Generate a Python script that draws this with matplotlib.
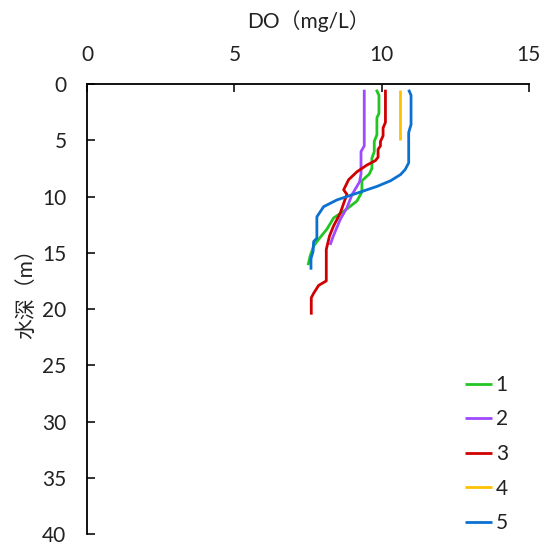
import matplotlib
matplotlib.use("Agg")
import matplotlib.pyplot as plt

plt.rcParams['font.family'] = ['Lato', 'Noto Sans CJK SC', 'DejaVu Sans']

# DO profiles (mg/L) against depth (m) for stations 1-5
do_1 = [9.82, 9.91, 9.91, 9.84, 9.84, 9.75, 9.75, 9.67, 9.67, 9.58, 9.33, 9.33, 9.16, 8.77, 8.37, 8.14, 7.86, 7.69, 7.57, 7.50]
depth_1 = [0.5, 1.0, 2.6, 3.0, 4.5, 5.1, 6.0, 6.6, 7.5, 8.0, 8.6, 9.6, 10.4, 11.2, 11.9, 12.9, 13.8, 14.4, 15.3, 16.1]

do_2 = [9.41, 9.41, 9.30, 9.30, 9.25, 9.00, 8.82, 8.60, 8.36, 8.25]
depth_2 = [0.5, 5.5, 6.0, 8.0, 8.7, 9.8, 11.0, 12.0, 13.5, 14.3]

do_3 = [10.13, 10.13, 10.05, 10.05, 9.96, 9.96, 9.88, 9.88, 9.79, 9.50, 9.16, 8.88, 8.71, 8.82, 8.59, 8.37, 8.23, 8.12, 8.12, 7.86, 7.69, 7.61, 7.61]
depth_3 = [0.5, 3.4, 3.9, 4.6, 5.1, 5.5, 5.8, 6.5, 6.8, 7.2, 7.8, 8.5, 9.4, 9.8, 11.5, 12.6, 13.5, 14.7, 17.5, 17.9, 18.6, 19.0, 20.5]

do_4 = [10.61, 10.61]
depth_4 = [0.5, 5.0]

do_5 = [10.92, 11.00, 11.00, 10.92, 10.92, 10.80, 10.64, 10.30, 9.84, 9.16, 8.48, 8.03, 7.80, 7.80, 7.69, 7.67, 7.60, 7.60]
depth_5 = [0.5, 1.0, 3.6, 4.3, 7.0, 7.6, 8.05, 8.6, 9.1, 9.7, 10.3, 10.9, 11.8, 13.7, 14.0, 14.9, 15.5, 16.5]

labels = ['1', '2', '3', '4', '5']
colors = ['#22C622', '#9E4BFF', '#D00000', '#FFC000', '#0A70D2']

x_ticks = [0, 5, 10, 15]
y_ticks = [0, 5, 10, 15, 20, 25, 30, 35, 40]

fig = plt.figure(figsize=(5.44, 5.46), dpi=100)
ax = fig.add_axes([0.1605, 0.022, 0.8115, 0.824])

series = [(do_1, depth_1), (do_2, depth_2), (do_3, depth_3), (do_4, depth_4), (do_5, depth_5)]
for (x, y), lab, c in zip(series, labels, colors):
    ax.plot(x, y, color=c, lw=2.0, label=lab, solid_capstyle='butt')

ax.set_xlim(0, 15)
ax.set_ylim(40, 0)
ax.set_xticks(x_ticks)
ax.set_yticks(y_ticks)
ax.xaxis.tick_top()
ax.xaxis.set_label_position('top')

for s in ('right', 'bottom'):
    ax.spines[s].set_visible(False)
for s in ('top', 'left'):
    ax.spines[s].set_linewidth(1.3)
    ax.spines[s].set_color('black')

ax.tick_params(axis='both', direction='in', length=6, width=1.3, labelsize=15, colors='#222222')
ax.tick_params(axis='x', pad=14)
ax.tick_params(axis='y', pad=15)

ax.set_xlabel('DO（mg/L）', fontsize=15, labelpad=12, color='#222222')
ax.set_ylabel('水深（m）', fontsize=15, color='#222222')
ax.yaxis.set_label_coords(-0.116, 0.545)

leg = ax.legend(loc='lower right', bbox_to_anchor=(0.995, -0.04), frameon=False,
                fontsize=15, handlelength=1.25, handletextpad=0.2, labelspacing=0.7)
for t in leg.get_texts():
    t.set_color('#222222')

fig.savefig('out.png', dpi=100)
